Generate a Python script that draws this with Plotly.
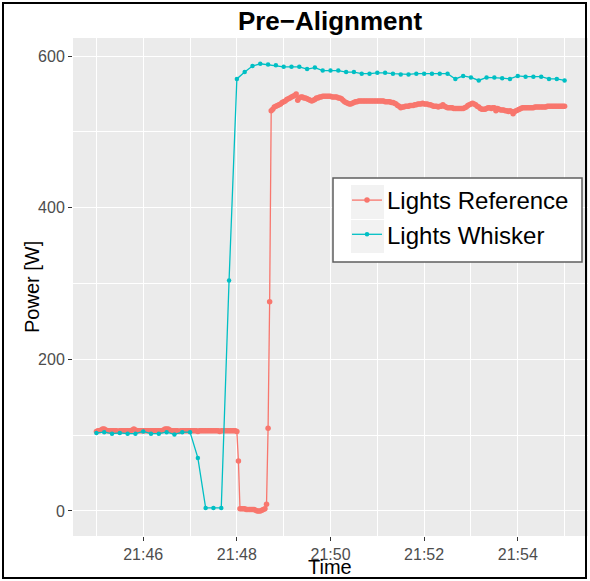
import pandas as pd
import plotly.graph_objects as go

# Lights Whisker: one reading every 10 s from 21:45:00
whisker_power = [103, 104, 102, 103, 102, 102, 105, 102, 102, 104, 101, 104, 104,
                 70, 4, 4, 4, 304,
                 570, 579, 587, 590, 589, 588, 586, 586, 586, 583,
                 585, 581, 581, 581, 579, 579, 577, 577, 578, 578,
                 577, 576, 576, 577, 577, 577, 577, 577, 570, 574,
                 572, 568, 572, 572, 571, 570, 574, 573, 573, 573,
                 570, 570, 568]

# Lights Reference: one reading every 2 s from 21:45:00
reference_power = [
    105, 106, 106, 107, 108, 108, 107, 106, 106, 106,
    106, 106, 106, 106, 105, 106, 106, 106, 106, 106,
    106, 106, 106, 107, 108, 107, 106, 106, 106, 106,
    106, 106, 106, 106, 106, 106, 106, 106, 106, 106,
    106, 106, 106, 107, 108, 108, 108, 107, 106, 106,
    106, 106, 106, 105, 106, 106, 106, 106, 106, 106,
    106, 106, 106, 106, 106, 105, 106, 106, 106, 106,
    106, 106, 106, 106, 106, 106, 106, 106, 106, 105,
    106, 106, 106, 106, 106, 106, 106, 106, 106, 106,
    105,
    66, 3, 3, 3, 3, 2, 2, 2, 2, 2, 2, 1, 0, 0, 0, 1, 2, 3,
    9, 109, 276,
    528, 530, 533, 534, 535, 536, 537, 539, 540, 541,
    543, 544, 545, 546, 547, 548, 550, 542, 545, 546,
    546, 545, 545, 544, 543, 542, 541, 542, 543, 545,
    545, 546, 546, 547, 547, 547, 547, 547, 547, 546,
    546, 546, 546, 545, 545, 544, 542, 540, 539, 538,
    537, 537, 538, 539, 540, 540, 541, 541, 541, 541,
    541, 541, 541, 541, 541, 541, 541, 541, 541, 541,
    541, 541, 541, 540, 540, 540, 540, 539, 539, 538,
    537, 535, 534, 532, 533, 533, 534, 534, 534, 535,
    535, 535, 536, 536, 537, 537, 537, 538, 537, 537,
    537, 536, 536, 535, 534, 534, 534, 533, 534, 534,
    536, 534, 533, 532, 532, 532, 532, 531, 531, 531,
    531, 531, 531, 531, 532, 533, 535, 536, 537, 538,
    537, 536, 534, 533, 531, 530, 530, 530, 531, 532,
    532, 531, 532, 532, 528, 531, 530, 529, 529, 529,
    528, 528, 527, 528, 527, 524, 527, 528, 529, 530,
    531, 532, 532, 532, 532, 532, 532, 532, 532, 533,
    533, 533, 533, 533, 533, 533, 533, 534, 534, 534,
    534, 534, 534, 534, 534, 534, 534, 534, 534,
]

series_names = ["Lights Reference", "Lights Whisker"]
series_colors = ["#F8766D", "#00BFC4"]

start = "2017-01-01 21:45:00"
whisker_time = pd.date_range(start, periods=len(whisker_power), freq="10s")
reference_time = pd.date_range(start, periods=len(reference_power), freq="2s")

W, H = 590, 581
ML, MR, MT, MB = 73, 2, 38, 45
PW, PH = W - ML - MR, H - MT - MB

fig = go.Figure()
for name, color, t, p, msize in [
        (series_names[0], series_colors[0], reference_time, reference_power, 5.5),
        (series_names[1], series_colors[1], whisker_time, whisker_power, 4.5)]:
    fig.add_trace(go.Scatter(x=t, y=p, name=name, mode="lines+markers",
                             line=dict(color=color, width=1.3),
                             marker=dict(color=color, size=msize)))

def px_x(px):
    return (px - ML) / PW

def px_y(py):
    return (H - MB - py) / PH

def rect(x0, y0, x1, y1, **kw):
    fig.add_shape(type="rect", xref="paper", yref="paper",
                  x0=px_x(x0), x1=px_x(x1), y0=px_y(y1), y1=px_y(y0), layer="above", **kw)

# outer frame
rect(3, 3, 586, 578, line=dict(color="black", width=2), fillcolor="rgba(0,0,0,0)")
# legend box and key backgrounds
rect(333, 178, 582, 262, line=dict(color="#5F5F5F", width=1.5), fillcolor="white")
rect(351, 185, 384, 219, line=dict(width=0), fillcolor="#F2F2F2")
rect(351, 220, 384, 253, line=dict(width=0), fillcolor="#F2F2F2")

tickfont = dict(family="Liberation Sans", size=16, color="#4D4D4D")
titlefont = dict(family="Liberation Sans", size=20, color="black")

fig.add_annotation(text="Time", xref="paper", yref="paper", x=px_x(330), y=px_y(567),
                   xanchor="center", yanchor="middle", showarrow=False, font=titlefont)
fig.add_annotation(text="Power [W]", xref="paper", yref="paper", x=px_x(32), y=px_y(287),
                   xanchor="center", yanchor="middle", showarrow=False, textangle=-90,
                   font=titlefont)

fig.update_layout(
    width=W, height=H,
    margin=dict(l=ML, r=MR, t=MT, b=MB),
    paper_bgcolor="white", plot_bgcolor="#EBEBEB",
    font=dict(family="Liberation Sans"),
    title=dict(text="Pre−Alignment", x=330 / W, xanchor="center",
               xref="container", yref="container", y=1 - 21 / H, yanchor="middle",
               font=dict(family="Liberation Sans", size=26, color="black", weight="bold")),
    xaxis=dict(type="date", range=["2017-01-01 21:44:30", "2017-01-01 21:55:30"],
               tickformat="%H:%M", tick0="2017-01-01 21:46:00", dtick=120000,
               ticks="outside", ticklen=4, tickwidth=1.1, tickcolor="#333333",
               tickfont=tickfont, showgrid=True, gridcolor="white", gridwidth=1.2,
               minor=dict(dtick=60000, tick0="2017-01-01 21:45:00", showgrid=True,
                          gridcolor="white", gridwidth=0.6),
               zeroline=False, showline=False),
    yaxis=dict(range=[-33, 624], tick0=0, dtick=200,
               ticks="outside", ticklen=4, tickwidth=1.1, tickcolor="#333333",
               tickfont=tickfont, showgrid=True, gridcolor="white", gridwidth=1.2,
               minor=dict(dtick=100, showgrid=True, gridcolor="white", gridwidth=0.6),
               zeroline=False, showline=False),
    legend=dict(x=px_x(347), y=px_y(178), xanchor="left", yanchor="top",
                bgcolor="rgba(0,0,0,0)", borderwidth=0,
                font=dict(family="Liberation Sans", size=24, color="black"),
                itemwidth=30, tracegroupgap=0),
    showlegend=True,
)

fig.write_html("out.html")
